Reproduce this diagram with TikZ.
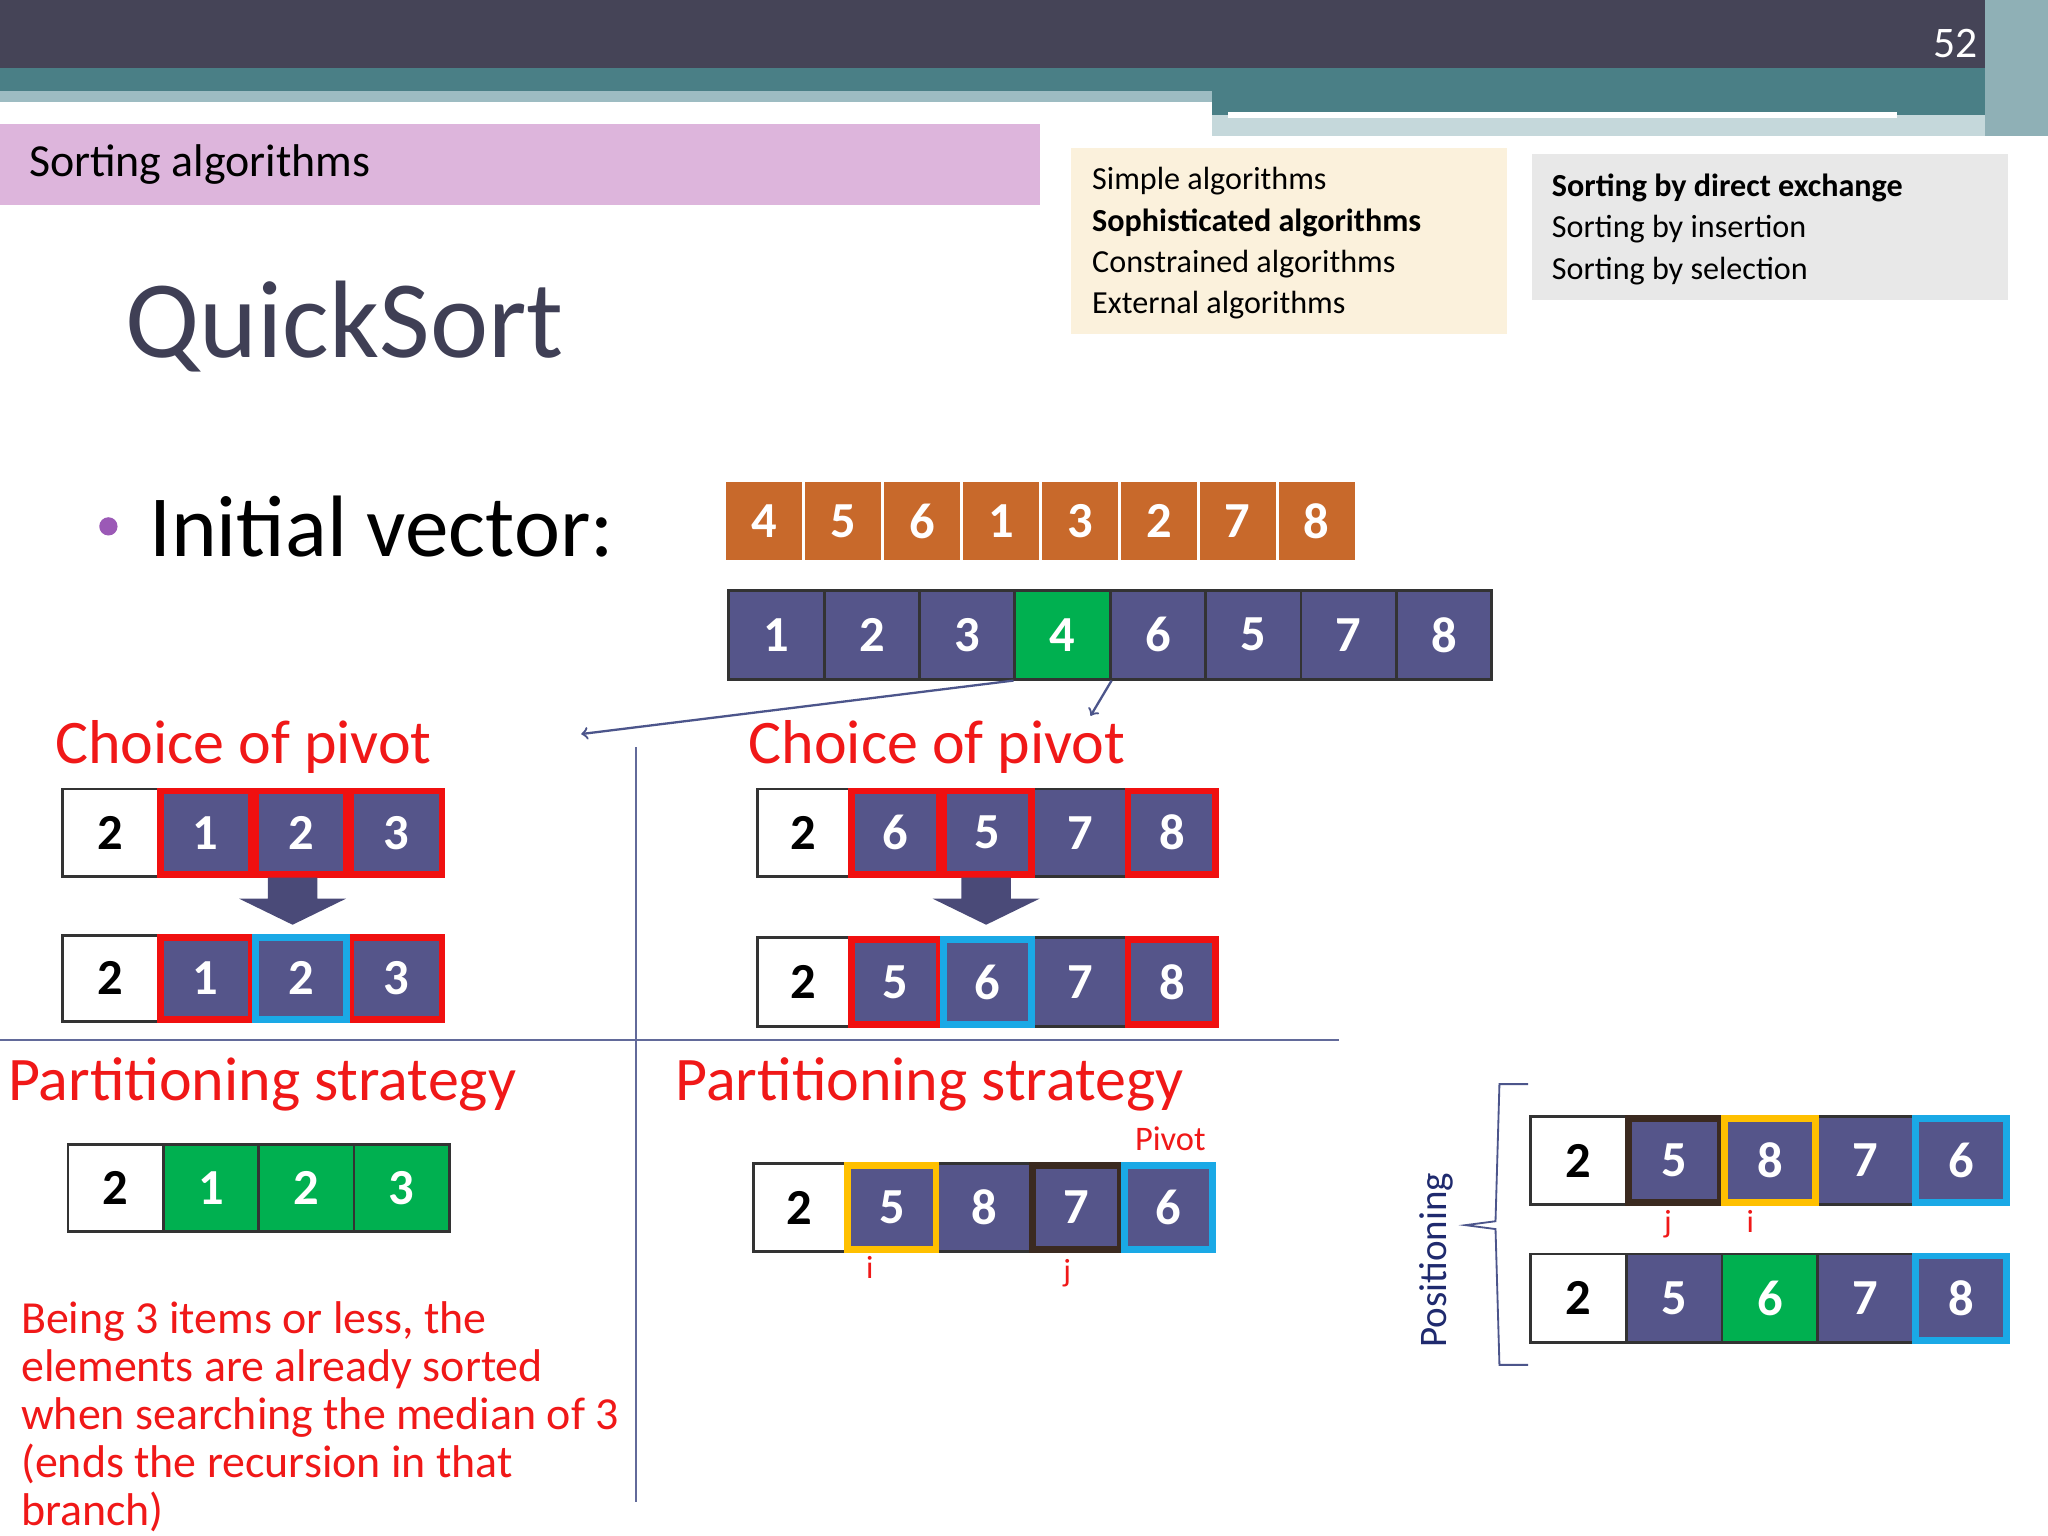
\documentclass[tikz,border=0pt]{standalone}
\usepackage{fontspec}
\setmainfont{Carlito}
\definecolor{pp}{HTML}{55558A}
\definecolor{gr}{HTML}{00B050}
\definecolor{org}{HTML}{C8692B}
\definecolor{hred}{HTML}{F01010}
\definecolor{hblue}{HTML}{1AA9E6}
\definecolor{hyel}{HTML}{FFC000}
\definecolor{hbrn}{HTML}{3B2A20}
\definecolor{txtred}{HTML}{F01818}
\definecolor{navy}{HTML}{1F2A6E}
\definecolor{bar1}{HTML}{454457}
\definecolor{bar2}{HTML}{4A7F86}
\definecolor{bar3}{HTML}{9DBCC2}
\definecolor{bar4}{HTML}{C5D8DB}
\definecolor{bar5}{HTML}{8FB0B6}
\definecolor{pink}{HTML}{DDB5DC}
\definecolor{beige}{HTML}{FBF1DC}
\definecolor{lgray}{HTML}{E8E8E8}
\definecolor{ttl}{HTML}{3F3F55}
\definecolor{bul}{HTML}{9B59B6}
\definecolor{arr}{HTML}{4A4A78}
\tikzset{cellb/.style={draw=black!80,line width=1.2pt,inner sep=0pt,anchor=center,font=\fontsize{22}{24}\selectfont\bfseries},
 hl/.style={draw=#1,line width=3pt},
 redt/.style={text=txtred,anchor=west,font=\fontsize{26}{28}\selectfont},
 conn/.style={draw=navy!80,line width=1pt}}
\newcommand\cellrow[6]{\foreach \t/\f/\c [count=\k] in {#6} \node[cellb,fill=\f,text=\c,minimum width=#4*0.02cm,minimum height=#5*0.02cm] (#1-\k) at ({#2+(\k-0.5)*#4},{#3+#5/2}) {\t};}
\newcommand\hlc[2]{\draw[hl=#2] ([shift={(1.5pt,-1.5pt)}]#1.north west) rectangle ([shift={(-1.5pt,1.5pt)}]#1.south east);}
\begin{document}
\begin{tikzpicture}[x=0.02cm,y=-0.02cm]
\useasboundingbox (0,0) rectangle (1568,1176);
\fill[white] (0,0) rectangle (1568,1176);
% top bars
\fill[bar1] (0,0) rectangle (1568,52);
\fill[bar2] (0,52) rectangle (1568,70);
\fill[bar3] (0,70) rectangle (928,78);
\fill[bar2] (928,70) rectangle (1520,88);
\fill[bar4] (928,88) rectangle (1520,104);
\fill[white] (940,86) rectangle (1452,90);
\fill[bar5] (1520,0) rectangle (1568,104);
\node[text=white,font=\fontsize{19}{20}\selectfont] (pg) at (1497,33) {52};
% header
\fill[pink] (0,95) rectangle (796,157);
\node[anchor=west,font=\fontsize{20}{22}\selectfont] (hdr) at (16,126) {Sorting algorithms};
\fill[beige] (820,113) rectangle (1154,256);
\node[anchor=north west,align=left,font=\fontsize{14}{18}\selectfont] (box1) at (830,122) {Simple algorithms\\\textbf{Sophisticated algorithms}\\Constrained algorithms\\External algorithms};
\fill[lgray] (1173,118) rectangle (1537,230);
\node[anchor=north west,align=left,font=\fontsize{14}{18}\selectfont] (box2) at (1182,127) {\textbf{Sorting by direct exchange}\\Sorting by insertion\\Sorting by selection};
\node[anchor=west,text=ttl,font=\fontsize{48}{50}\selectfont] (title) at (90,250) {QuickSort};
\fill[bul] (83,403) circle (7);
\node[anchor=west,font=\fontsize{38}{40}\selectfont] (iv) at (108,403) {Initial vector:};
% initial vector
\foreach \v [count=\k] in {4,5,6,1,3,2,7,8} \node[fill=org,draw=white,line width=1.2pt,text=white,inner sep=0pt,minimum width=60.4*0.02cm,minimum height=62*0.02cm,font=\fontsize{22}{24}\selectfont\bfseries] (o-\k) at ({555+(\k-0.5)*60.4},399) {\v};
\cellrow{P}{558}{452}{73}{68}{1/pp/white,2/pp/white,3/pp/white,4/gr/white,6/pp/white,5/pp/white,7/pp/white,8/pp/white}
\draw[conn,->] (P-4.south west) -- (445,562);
\draw[conn,->] (P-4.south east) -- (835,548);
\draw[navy!70,line width=0.8pt] (487,572) -- (487,1150);
\draw[navy!70,line width=0.8pt] (0,796) -- (1025,796);
\node[redt,font=\fontsize{27}{29}\selectfont] (cp1) at (36,572) {Choice of pivot};
\node[redt,font=\fontsize{27}{29}\selectfont] (cp2) at (567,572) {Choice of pivot};
% left rows
\cellrow{A}{48}{604}{73}{67}{2/white/black,1/pp/white,2/pp/white,3/pp/white}
\hlc{A-2}{hred}\hlc{A-3}{hred}\hlc{A-4}{hred}
\fill[arr] (205,672)--(243,672)--(243,688)--(265,688)--(224,708)--(183,688)--(205,688)--cycle;
\cellrow{B}{48}{716}{73}{66}{2/white/black,1/pp/white,2/pp/white,3/pp/white}
\hlc{B-2}{hred}\hlc{B-4}{hred}\hlc{B-3}{hblue}
\node[redt,font=\fontsize{27}{29}\selectfont] (ps1) at (0,830) {Partitioning strategy};
\node[redt,font=\fontsize{27}{29}\selectfont] (ps2) at (511,830) {Partitioning strategy};
\cellrow{G}{52}{876}{73}{67}{2/white/black,1/gr/white,2/gr/white,3/gr/white}
\node[redt,anchor=north west,align=left,font=\fontsize{20}{21}\selectfont] (para) at (10,990) {Being 3 items or less, the\\elements are already sorted\\when searching the median of 3\\(ends the recursion in that\\branch)};
% right rows
\cellrow{C}{580}{604}{70.5}{67}{2/white/black,6/pp/white,5/pp/white,7/pp/white,8/pp/white}
\hlc{C-2}{hred}\hlc{C-3}{hred}\hlc{C-5}{hred}
\fill[arr] (736,672)--(774,672)--(774,688)--(796,688)--(755,708)--(714,688)--(736,688)--cycle;
\cellrow{D}{580}{718}{70.5}{68}{2/white/black,5/pp/white,6/pp/white,7/pp/white,8/pp/white}
\hlc{D-2}{hred}\hlc{D-5}{hred}\hlc{D-3}{hblue}
\node[text=txtred,font=\fontsize{15}{16}\selectfont] (pv) at (896,872) {Pivot};
\cellrow{E}{577}{891}{70.6}{67}{2/white/black,5/pp/white,8/pp/white,7/pp/white,6/pp/white}
\hlc{E-2}{hyel}\hlc{E-4}{hbrn}\hlc{E-5}{hblue}
\node[text=txtred,font=\fontsize{14}{15}\selectfont] (ei) at (666,970) {i};
\node[text=txtred,font=\fontsize{14}{15}\selectfont] (ej) at (817,975) {j};
% positioning
\node[rotate=90,text=navy,font=\fontsize{17}{18}\selectfont] (pos) at (1100,965) {Positioning};
\draw[navy!80,line width=0.8pt] (1170,830) -- (1148,830) -- (1145,935) -- (1122,938) -- (1145,941) -- (1148,1045) -- (1170,1045);
\cellrow{F}{1172}{855}{73.2}{67}{2/white/black,5/pp/white,8/pp/white,7/pp/white,6/pp/white}
\hlc{F-2}{hbrn}\hlc{F-3}{hyel}\hlc{F-5}{hblue}
\node[text=txtred,font=\fontsize{14}{15}\selectfont] (fj) at (1277,937) {j};
\node[text=txtred,font=\fontsize{14}{15}\selectfont] (fi) at (1340,935) {i};
\cellrow{H}{1172}{960}{73.2}{68}{2/white/black,5/pp/white,6/gr/white,7/pp/white,8/pp/white}
\hlc{H-5}{hblue}
\end{tikzpicture}
\end{document}
